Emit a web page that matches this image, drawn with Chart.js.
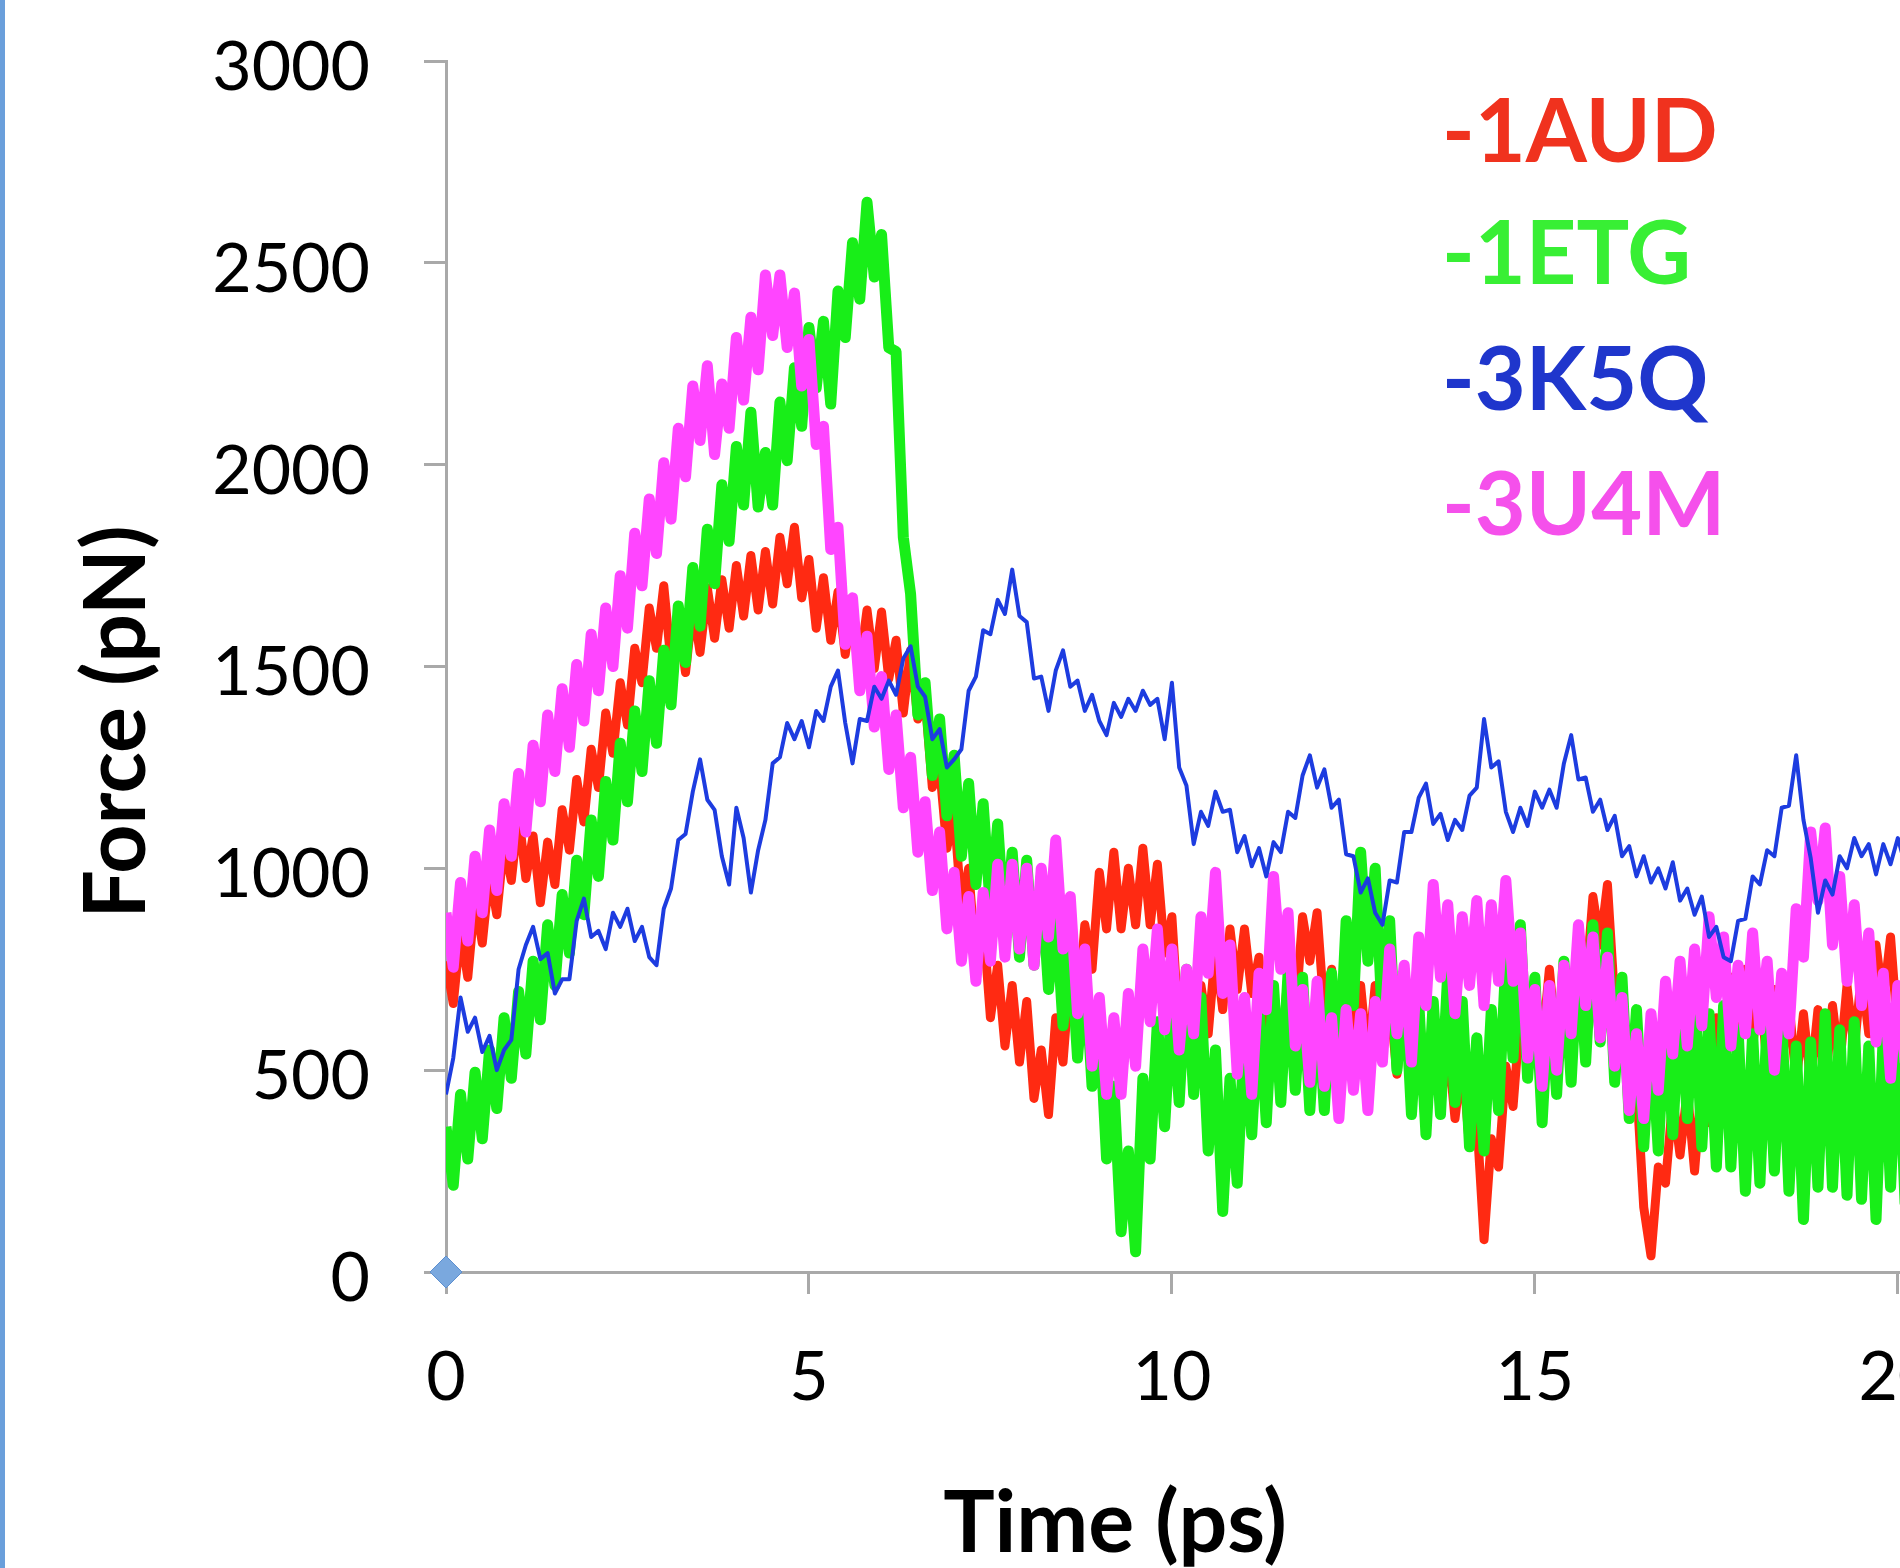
<!DOCTYPE html>
<html>
<head>
<meta charset="utf-8">
<title>Force vs time</title>
<script src="https://cdn.jsdelivr.net/npm/chart.js@4.4.1/dist/chart.umd.min.js"></script>
<style>
  html, body { margin: 0; padding: 0; background: #fff; overflow: hidden; }
  body { width: 1900px; height: 1568px; position: relative; }
  #edge { position: absolute; left: 0; top: 0; width: 5px; height: 1568px; background: #6a9fdb; z-index: 2; }
  #forceChart { position: absolute; left: 5px; top: 0; }
</style>
</head>
<body>
<div id="edge"></div>
<canvas id="forceChart" width="2058" height="1568"></canvas>
<script>
// samples are 0.1 ps apart, starting at t = 0
const timeStep = 0.1;

const seriesNames = ['-1AUD', '-1ETG', '-3K5Q', '-3U4M'];

// Force (pN), one value per 0.1 ps
const force1AUD = [
  770, 665, 845, 730, 925, 815, 990, 885, 1065, 970,
  1135, 975, 1080, 915, 1065, 960, 1145, 1045, 1220, 1115,
  1295, 1200, 1385, 1285, 1460, 1355, 1545, 1460, 1645, 1545,
  1700, 1510, 1615, 1485, 1650, 1535, 1695, 1570, 1715, 1595,
  1750, 1625, 1775, 1640, 1785, 1655, 1820, 1705, 1845, 1670,
  1765, 1595, 1720, 1565, 1685, 1530, 1655, 1505, 1640, 1495,
  1635, 1470, 1565, 1385, 1540, 1370, 1420, 1200, 1250, 1050,
  1140, 900, 1000, 760, 870, 630, 760, 560, 710, 520,
  670, 430, 550, 390, 630, 520, 750, 630, 860, 750,
  990, 850, 1040, 850, 1000, 860, 1050, 860, 1010, 790,
  880, 590, 670, 480, 710, 590, 800, 650, 850, 700,
  850, 690, 780, 530, 670, 520, 740, 630, 880, 770,
  890, 640, 750, 550, 700, 550, 710, 520, 710, 550,
  680, 490, 650, 500, 650, 450, 600, 410, 570, 380,
  530, 310, 380, 80, 330, 260, 510, 410, 640, 510,
  710, 560, 750, 560, 740, 590, 810, 700, 930, 810,
  960, 670, 710, 420, 470, 160, 40, 260, 220, 430,
  290, 450, 250, 470, 370, 630, 510, 730, 560, 750,
  560, 710, 510, 700, 510, 670, 470, 640, 470, 650,
  460, 660, 510, 710, 550, 740, 590, 810, 670, 830,
  590, 730, 530, 720, 560, 730
];

const force1ETG = [
  360, 215, 440, 280, 495, 330, 550, 405, 630, 480,
  695, 540, 770, 625, 860, 710, 935, 790, 1020, 885,
  1120, 980, 1215, 1070, 1310, 1165, 1390, 1240, 1465, 1310,
  1540, 1405, 1650, 1510, 1745, 1600, 1840, 1705, 1950, 1810,
  2045, 1900, 2130, 1895, 2030, 1900, 2155, 2010, 2240, 2095,
  2340, 2190, 2355, 2150, 2430, 2315, 2550, 2410, 2650, 2465,
  2570, 2290, 2280, 1820, 1680, 1380, 1460, 1230, 1370, 1130,
  1280, 1030, 1210, 960, 1160, 900, 1110, 840, 1040, 780,
  1020, 760, 980, 700, 900, 610, 820, 530, 760, 460,
  630, 280, 460, 100, 300, 50, 480, 280, 620, 360,
  680, 420, 750, 440, 680, 300, 550, 150, 480, 220,
  590, 340, 660, 370, 710, 420, 740, 450, 730, 400,
  690, 400, 740, 500, 870, 660, 1040, 770, 1000, 620,
  870, 500, 740, 390, 670, 340, 670, 390, 740, 420,
  670, 310, 580, 300, 650, 400, 770, 530, 860, 480,
  730, 370, 700, 440, 770, 470, 810, 520, 860, 570,
  840, 470, 730, 380, 650, 310, 610, 300, 650, 340,
  700, 380, 700, 310, 640, 260, 660, 260, 600, 200,
  590, 220, 620, 250, 630, 200, 560, 130, 570, 210,
  640, 210, 600, 190, 620, 180, 560, 130, 590, 210,
  610, 170, 560, 180, 610, 200
];

const force3K5Q = [
  440, 530, 680, 595, 630, 545, 585, 500, 550, 575,
  750, 810, 855, 775, 790, 690, 725, 725, 870, 925,
  830, 845, 800, 890, 855, 900, 820, 855, 780, 760,
  900, 950, 1070, 1085, 1190, 1270, 1170, 1145, 1030, 960,
  1150, 1075, 940, 1045, 1120, 1260, 1275, 1360, 1320, 1365,
  1300, 1390, 1365, 1450, 1490, 1360, 1260, 1370, 1365, 1450,
  1420, 1465, 1430, 1520, 1550, 1450, 1425, 1320, 1345, 1250,
  1270, 1295, 1440, 1475, 1590, 1580, 1665, 1630, 1740, 1625,
  1610, 1470, 1475, 1390, 1490, 1540, 1450, 1465, 1390, 1430,
  1365, 1330, 1410, 1375, 1420, 1390, 1440, 1405, 1420, 1320,
  1460, 1250, 1205, 1060, 1140, 1105, 1190, 1140, 1145, 1040,
  1080, 1005, 1050, 980, 1065, 1040, 1140, 1125, 1230, 1280,
  1200, 1245, 1150, 1170, 1035, 1030, 940, 975, 890, 860,
  970, 965, 1090, 1090, 1175, 1210, 1110, 1135, 1070, 1120,
  1095, 1180, 1200, 1370, 1250, 1265, 1140, 1090, 1150, 1105,
  1190, 1150, 1195, 1150, 1260, 1330, 1220, 1225, 1140, 1170,
  1095, 1130, 1030, 1055, 980, 1030, 965, 1000, 950, 1015,
  920, 950, 885, 930, 830, 855, 780, 770, 870, 875,
  980, 960, 1045, 1030, 1150, 1155, 1280, 1120, 1025, 890,
  970, 935, 1030, 1000, 1075, 1030, 1060, 985, 1060, 1010,
  1075, 1010, 1090, 1025, 1070, 1020
];

const force3U4M = [
  890, 755, 965, 820, 1030, 890, 1095, 945, 1160, 1030,
  1235, 1090, 1305, 1165, 1380, 1240, 1445, 1300, 1505, 1365,
  1580, 1440, 1645, 1500, 1725, 1595, 1830, 1700, 1915, 1780,
  2005, 1865, 2090, 1970, 2195, 2060, 2245, 2025, 2200, 2090,
  2315, 2160, 2365, 2235, 2470, 2320, 2470, 2290, 2425, 2195,
  2310, 2050, 2095, 1790, 1845, 1555, 1670, 1440, 1575, 1350,
  1475, 1245, 1380, 1150, 1275, 1040, 1165, 945, 1090, 850,
  990, 770, 930, 720, 940, 770, 1010, 780, 1010, 800,
  1000, 760, 1000, 830, 1070, 800, 930, 640, 800, 510,
  680, 440, 630, 440, 690, 510, 800, 620, 850, 600,
  800, 550, 750, 590, 880, 740, 990, 690, 810, 490,
  680, 440, 740, 650, 980, 750, 890, 560, 700, 470,
  720, 460, 630, 380, 650, 450, 640, 400, 670, 520,
  800, 590, 760, 520, 830, 660, 960, 730, 910, 640,
  880, 710, 920, 660, 910, 720, 970, 720, 840, 530,
  700, 460, 710, 500, 760, 590, 860, 660, 830, 580,
  780, 510, 680, 400, 590, 380, 640, 450, 720, 540,
  770, 560, 800, 610, 880, 680, 830, 560, 760, 590,
  840, 600, 770, 500, 740, 590, 900, 780, 1090, 920,
  1100, 810, 980, 720, 910, 660, 840, 570, 740, 480,
  710, 520, 720, 490, 740, 540
];

// lone marker sitting on the origin
const originMarker = [{ x: 0, y: 0 }];

const timePs = force1AUD.map((_, i) => Math.round(i * timeStep * 10) / 10);

const lineColors = ['#ff2a12', '#18ee18', '#1d3ce0', '#ff45ff'];
const textColors = ['#f0321e', '#38ef34', '#1f36cc', '#f550eb'];
const tickFont = { family: 'Lato, "Open Sans", sans-serif', size: 68 };

// free text drawn on the canvas: axis titles and the coloured legend
const textLayer = {
  id: 'textLayer',
  afterDraw(chart) {
    const c = chart.ctx;
    c.save();
    c.fillStyle = '#000';
    c.font = 'bold 86px Lato, "Open Sans", sans-serif';
    c.textAlign = 'center';
    c.textBaseline = 'alphabetic';
    c.fillText('Time (ps)', 1110, 1552);
    c.translate(140, 722);
    c.rotate(-Math.PI / 2);
    c.fillText('Force (pN)', 0, 0);
    c.restore();

    c.save();
    c.font = 'bold 88px Lato, "Open Sans", sans-serif';
    c.textAlign = 'left';
    c.textBaseline = 'alphabetic';
    const rows = [162, 284, 410, 535];
    seriesNames.forEach((name, i) => {
      c.fillStyle = textColors[i];
      c.fillText(name, 1437, rows[i]);
    });
    c.restore();
  }
};

const ctx = document.getElementById('forceChart').getContext('2d');

const lineSet = (label, values, color, width, order) => ({
  label,
  data: values,
  borderColor: color,
  backgroundColor: color,
  borderWidth: width,
  borderJoinStyle: 'round',
  pointRadius: 0,
  tension: 0,
  order
});

new Chart(ctx, {
  type: 'line',
  data: {
    labels: timePs,
    datasets: [
      lineSet('1AUD', force1AUD, lineColors[0], 9, 4),
      lineSet('1ETG', force1ETG, lineColors[1], 11, 3),
      lineSet('3K5Q', force3K5Q, lineColors[2], 4, 1),
      lineSet('3U4M', force3U4M, lineColors[3], 11, 2),
      {
        type: 'scatter',
        label: '',
        data: originMarker,
        pointStyle: 'rectRot',
        pointRadius: 16,
        backgroundColor: '#7aa8de',
        borderColor: '#5d8fcf',
        borderWidth: 1,
        clip: false,
        order: 0
      }
    ]
  },
  options: {
    responsive: false,
    animation: false,
    layout: { padding: { top: 61, right: 20, bottom: 0, left: 0 } },
    scales: {
      x: {
        type: 'linear',
        min: 0,
        max: 22,
        ticks: {
          stepSize: 5,
          includeBounds: false,
          color: '#000',
          font: tickFont,
          padding: 43,
          maxRotation: 0
        },
        grid: { drawOnChartArea: false, drawTicks: true, tickLength: 22, tickWidth: 3, tickColor: '#a9a9a9' },
        border: { color: '#a9a9a9', width: 3 },
        afterFit: scale => {
          scale.height = 296;
          scale.paddingLeft = 0;
          scale.paddingRight = 0;
        }
      },
      y: {
        min: 0,
        max: 3000,
        ticks: {
          stepSize: 500,
          color: '#000',
          font: tickFont,
          padding: 54,
          labelOffset: 7,
          callback: v => String(v)
        },
        grid: { drawOnChartArea: false, drawTicks: true, tickLength: 22, tickWidth: 3, tickColor: '#a9a9a9' },
        border: { color: '#a9a9a9', width: 3 },
        afterFit: scale => {
          scale.width = 441;
          scale.paddingTop = 0;
          scale.paddingBottom = 0;
        }
      }
    },
    plugins: {
      legend: { display: false },
      tooltip: { enabled: false }
    }
  },
  plugins: [textLayer]
});
</script>
</body>
</html>
